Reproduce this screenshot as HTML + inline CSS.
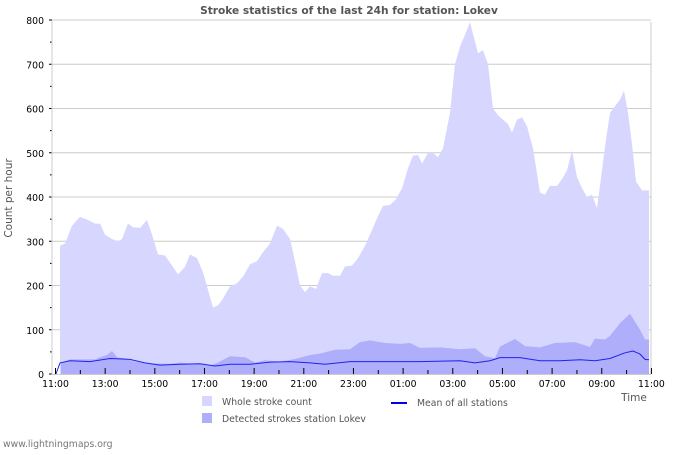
<!DOCTYPE html>
<html><head><meta charset="utf-8"><style>
body{margin:0;background:#fff;width:700px;height:450px;overflow:hidden}
text{font-family:"DejaVu Sans","Liberation Sans",sans-serif}
</style></head><body>
<svg id="s" width="700" height="450" xmlns="http://www.w3.org/2000/svg">
<g id="grid"></g>
<polygon id="whole" fill="#d6d6ff"/>
<polygon id="det" fill="#aeaefa"/>
<polyline id="mean" fill="none" stroke="#2222ee" stroke-width="1"/>
<g id="ax"></g>
<text x="349" y="14" text-anchor="middle" font-size="10.6" font-weight="bold" fill="#555">Stroke statistics of the last 24h for station: Lokev</text>
<text transform="translate(12,198) rotate(-90)" text-anchor="middle" font-size="10.5" fill="#555">Count per hour</text>
<text x="634" y="401" text-anchor="middle" font-size="10.5" fill="#555">Time</text>
<rect x="202" y="396" width="10" height="10" fill="#d6d6ff"/>
<text x="222" y="405" font-size="9.3" fill="#555">Whole stroke count</text>
<rect x="202" y="413" width="10" height="10" fill="#aeaefa"/>
<text x="222" y="422" font-size="9.3" fill="#555">Detected strokes station Lokev</text>
<line x1="391" y1="403" x2="407" y2="403" stroke="#0000ee" stroke-width="2"/>
<text x="417" y="406" font-size="9.3" fill="#555">Mean of all stations</text>
<text x="3" y="447" font-size="9.3" fill="#777">www.lightningmaps.org</text>
</svg>
<script>
var Y=function(v){return 374-v*0.4425};
var W=[60,290,65,295,72,335,80,355,88,348,95,340,100,340,105,315,112,305,118,300,122,305,128,340,133,332,140,330,147,348,152,315,158,270,165,268,172,245,178,225,185,242,190,270,197,262,203,230,208,190,213,150,218,155,223,170,230,198,237,205,243,220,250,248,257,255,263,275,270,295,277,335,283,328,290,305,295,255,300,200,305,185,310,198,316,192,322,228,328,228,333,222,340,222,345,243,352,245,358,262,365,290,370,315,377,352,383,380,390,382,396,395,402,420,408,465,413,493,418,495,422,475,428,500,433,500,438,490,443,510,450,590,455,700,460,740,466,772,470,795,474,760,478,725,483,732,488,700,493,600,498,585,503,575,508,565,512,545,517,575,522,580,527,560,533,510,540,410,545,405,550,425,557,425,562,440,567,460,572,505,577,445,582,420,587,400,592,405,597,375,602,460,606,530,610,590,615,605,620,620,624,640,628,590,632,520,636,435,642,415,649,415];
var D=[61,25,66,30,70,33,80,33,95,33,100,38,107,43,112,52,117,38,125,35,135,28,150,24,170,23,180,26,190,23,200,23,210,19,218,26,230,40,245,38,255,26,265,31,280,28,295,34,310,43,320,46,335,55,350,56,360,72,370,76,385,70,400,68,410,70,420,59,440,60,460,56,475,58,485,40,495,36,500,62,515,79,525,63,540,60,555,70,575,72,590,61,595,80,605,78,610,86,620,115,630,136,640,100,645,78,649,78];
var M=[56,0,60,25,70,30,90,28,110,35,130,33,145,25,160,20,180,22,200,23,215,18,230,22,250,22,270,27,290,28,310,25,325,22,350,28,380,28,420,28,460,30,475,25,490,30,500,37,520,37,540,30,560,30,580,32,595,30,610,35,625,48,633,52,640,45,645,33,649,32];
function pts(a){var p=[];for(var i=0;i<a.length;i+=2)p.push(a[i]+','+Y(a[i+1]).toFixed(1));return p;}
function area(a){var p=pts(a);return a[0]+',374 '+p.join(' ')+' '+a[a.length-2]+',374';}
document.getElementById('whole').setAttribute('points',area(W));
document.getElementById('det').setAttribute('points',area(D));
document.getElementById('mean').setAttribute('points',pts(M).join(' '));
var g='',a='';
for(var v=0;v<=800;v+=100){var y=Y(v);
 if(v>0)g+='<line x1="52" x2="651" y1="'+y+'" y2="'+y+'" stroke="#ccc"/>';
 a+='<line x1="49" x2="52" y1="'+y+'" y2="'+y+'" stroke="#000"/>';
 a+='<text x="44" y="'+(y+4)+'" text-anchor="end" font-size="9.3" fill="#000">'+v+'</text>';
 if(v<800){var y2=Y(v+50);a+='<line x1="50" x2="52" y1="'+y2+'" y2="'+y2+'" stroke="#000"/>';}}
g+='<line x1="651" x2="651" y1="22" y2="374" stroke="#ccc"/>';
a+='<line x1="52" x2="52" y1="21" y2="375" stroke="#ccc"/><line x1="52" x2="651" y1="374.5" y2="374.5" stroke="#ccc"/>';
var hrs=['11:00','13:00','15:00','17:00','19:00','21:00','23:00','01:00','03:00','05:00','07:00','09:00','11:00'];
for(var h=0;h<=24;h++){var x=55.5+h*24.83;
 a+='<line x1="'+x+'" x2="'+x+'" y1="'+(h%2?370:368)+'" y2="374" stroke="#000"/>';
 if(h%2==0)a+='<text x="'+x+'" y="387" text-anchor="middle" font-size="9.3" fill="#000">'+hrs[h/2]+'</text>';}
document.getElementById('grid').innerHTML=g;
document.getElementById('ax').innerHTML=a;
</script>
</body></html>
